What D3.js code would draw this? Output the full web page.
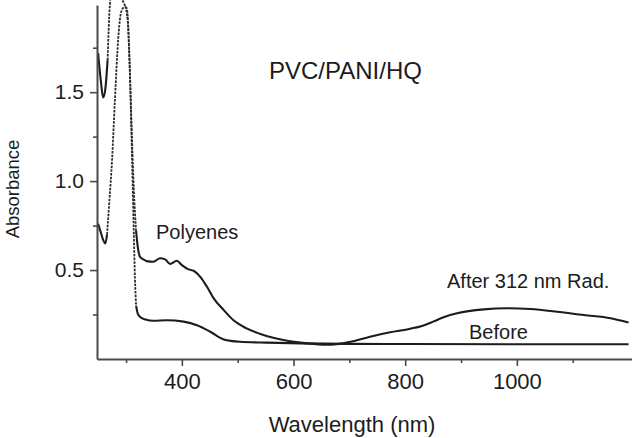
<!DOCTYPE html>
<html>
<head>
<meta charset="utf-8">
<script src="https://cdn.jsdelivr.net/npm/d3@7"></script>
<style>
  html, body { margin: 0; padding: 0; background: #fff; }
  svg { display: block; font-family: "Liberation Sans", Arial, Helvetica, sans-serif; }
</style>
</head>
<body>
<svg id="chart" width="632" height="438"></svg>
<script>
// ---- Data ----
const afterWavelength = [250, 255, 259, 263, 267, 271, 276, 283, 290, 296, 302, 306, 310, 314, 318, 321, 325, 331, 337, 349, 361, 370, 379, 391, 400, 412, 421, 433, 445, 457, 475, 492, 516, 546, 582, 624, 660, 700, 737, 773, 809, 830, 850, 870, 893, 941, 982, 1024, 1072, 1120, 1168, 1200];
const afterAbsorbance = [1.72, 1.56, 1.47, 1.52, 1.68, 1.99, 2.10, 2.12, 2.05, 2.00, 1.96, 1.70, 1.30, 0.95, 0.72, 0.63, 0.575, 0.56, 0.55, 0.547, 0.566, 0.56, 0.534, 0.552, 0.528, 0.504, 0.496, 0.462, 0.406, 0.341, 0.275, 0.219, 0.172, 0.135, 0.107, 0.088, 0.080, 0.095, 0.125, 0.150, 0.170, 0.186, 0.210, 0.236, 0.257, 0.279, 0.285, 0.281, 0.266, 0.247, 0.229, 0.205];

const beforeWavelength = [250, 255, 259, 263, 266, 270, 275, 280, 286, 290, 294, 298, 303, 307, 311, 314, 316, 318, 321, 326, 335, 349, 373, 403, 427, 451, 475, 504, 552, 612, 700, 800, 1000, 1200];
const beforeAbsorbance = [0.76, 0.71, 0.67, 0.65, 0.70, 0.88, 1.12, 1.45, 1.80, 1.93, 1.97, 1.98, 1.90, 1.60, 1.10, 0.70, 0.45, 0.30, 0.255, 0.235, 0.222, 0.215, 0.218, 0.21, 0.19, 0.153, 0.11, 0.097, 0.092, 0.088, 0.085, 0.084, 0.083, 0.083];

// wavelength ranges where the recorded trace is sparse (drawn dotted)
const afterSparseRange = [267, 318];
const beforeSparseRange = [266, 318];

const xMajorTicks = [400, 600, 800, 1000];
const xMinorTicks = [300, 500, 700, 900, 1100];
const yMajorTicks = [0.5, 1.0, 1.5];
const yMinorTicks = [0.25, 0.75, 1.25, 1.75];

const titleText = "PVC/PANI/HQ";
const xLabel = "Wavelength (nm)";
const yLabel = "Absorbance";
const annotations = [
  { text: "Polyenes", x: 156, y: 239 },
  { text: "After 312 nm Rad.", x: 447, y: 288 },
  { text: "Before", x: 469, y: 339 }
];

// ---- Layout ----
const svg = d3.select("#chart");
const plotLeft = 97, plotRight = 633, plotTop = 5, plotBottom = 359;

const x = d3.scaleLinear().domain([248, 1208]).range([plotLeft, plotRight]);
const y = d3.scaleLinear().domain([0, 1.99]).range([plotBottom, plotTop]);

const axisColor = "#4a4a4a";
const inkColor = "#1c1c1c";

svg.append("defs").append("clipPath").attr("id", "plotClip")
  .append("rect").attr("x", plotLeft).attr("y", 0)
  .attr("width", plotRight - plotLeft).attr("height", plotBottom);

// ---- Curves ----
const series = [
  { data: afterWavelength.map((w, i) => [w, afterAbsorbance[i]]), sparse: afterSparseRange },
  { data: beforeWavelength.map((w, i) => [w, beforeAbsorbance[i]]), sparse: beforeSparseRange }
];

const g = svg.append("g").attr("clip-path", "url(#plotClip)");
series.forEach(s => {
  const [a, b] = s.sparse;
  const solid = d3.line()
    .defined(d => d[0] <= a || d[0] >= b)
    .x(d => x(d[0])).y(d => y(d[1]))
    .curve(d3.curveMonotoneX);
  const dotted = d3.line()
    .defined(d => d[0] >= a && d[0] <= b)
    .x(d => x(d[0])).y(d => y(d[1]))
    .curve(d3.curveMonotoneX);
  g.append("path")
    .datum(s.data)
    .attr("d", dotted)
    .attr("fill", "none")
    .attr("stroke", "#2a2a2a")
    .attr("stroke-width", 1.8)
    .attr("stroke-dasharray", "2.5,1.2");
  g.append("path")
    .datum(s.data)
    .attr("d", solid)
    .attr("fill", "none")
    .attr("stroke", inkColor)
    .attr("stroke-width", 2.1)
    .attr("stroke-linejoin", "round");
});

// ---- Axes ----
function styleAxis(sel) {
  sel.selectAll(".domain").attr("stroke", axisColor).attr("stroke-width", 2);
  sel.selectAll(".tick line").attr("stroke", axisColor).attr("stroke-width", 1.6);
  sel.selectAll(".tick text").attr("fill", inkColor);
}

const xAxisMajor = svg.append("g")
  .attr("transform", `translate(0,${plotBottom})`)
  .call(d3.axisBottom(x).tickValues(xMajorTicks).tickSize(7).tickPadding(7).tickSizeOuter(0)
        .tickFormat(d3.format("d")));
xAxisMajor.attr("font-size", 22).attr("font-family", null);
styleAxis(xAxisMajor);

const xAxisMinor = svg.append("g")
  .attr("transform", `translate(0,${plotBottom})`)
  .call(d3.axisBottom(x).tickValues(xMinorTicks).tickSize(4).tickFormat(""));
xAxisMinor.select(".domain").remove();
styleAxis(xAxisMinor);

const yAxisMajor = svg.append("g")
  .attr("transform", `translate(${plotLeft},0)`)
  .call(d3.axisLeft(y).tickValues(yMajorTicks).tickSize(7).tickPadding(6).tickSizeOuter(0)
        .tickFormat(d3.format(".1f")));
yAxisMajor.attr("font-size", 21).attr("font-family", null);
styleAxis(yAxisMajor);

const yAxisMinor = svg.append("g")
  .attr("transform", `translate(${plotLeft},0)`)
  .call(d3.axisLeft(y).tickValues(yMinorTicks).tickSize(4).tickFormat(""));
yAxisMinor.select(".domain").remove();
styleAxis(yAxisMinor);

// ---- Labels ----
svg.append("text")
  .attr("x", 352).attr("y", 432)
  .attr("text-anchor", "middle")
  .attr("font-size", 22)
  .attr("fill", inkColor)
  .text(xLabel);

svg.append("text")
  .attr("transform", "translate(18.5,189) rotate(-90)")
  .attr("text-anchor", "middle")
  .attr("font-size", 18.5)
  .attr("fill", inkColor)
  .text(yLabel);

svg.append("text")
  .attr("x", 269).attr("y", 79)
  .attr("font-size", 24)
  .attr("fill", inkColor)
  .text(titleText);

svg.selectAll(".annot")
  .data(annotations)
  .enter().append("text")
  .attr("class", "annot")
  .attr("x", d => d.x).attr("y", d => d.y)
  .attr("font-size", 20)
  .attr("fill", inkColor)
  .text(d => d.text);
</script>
</body>
</html>
